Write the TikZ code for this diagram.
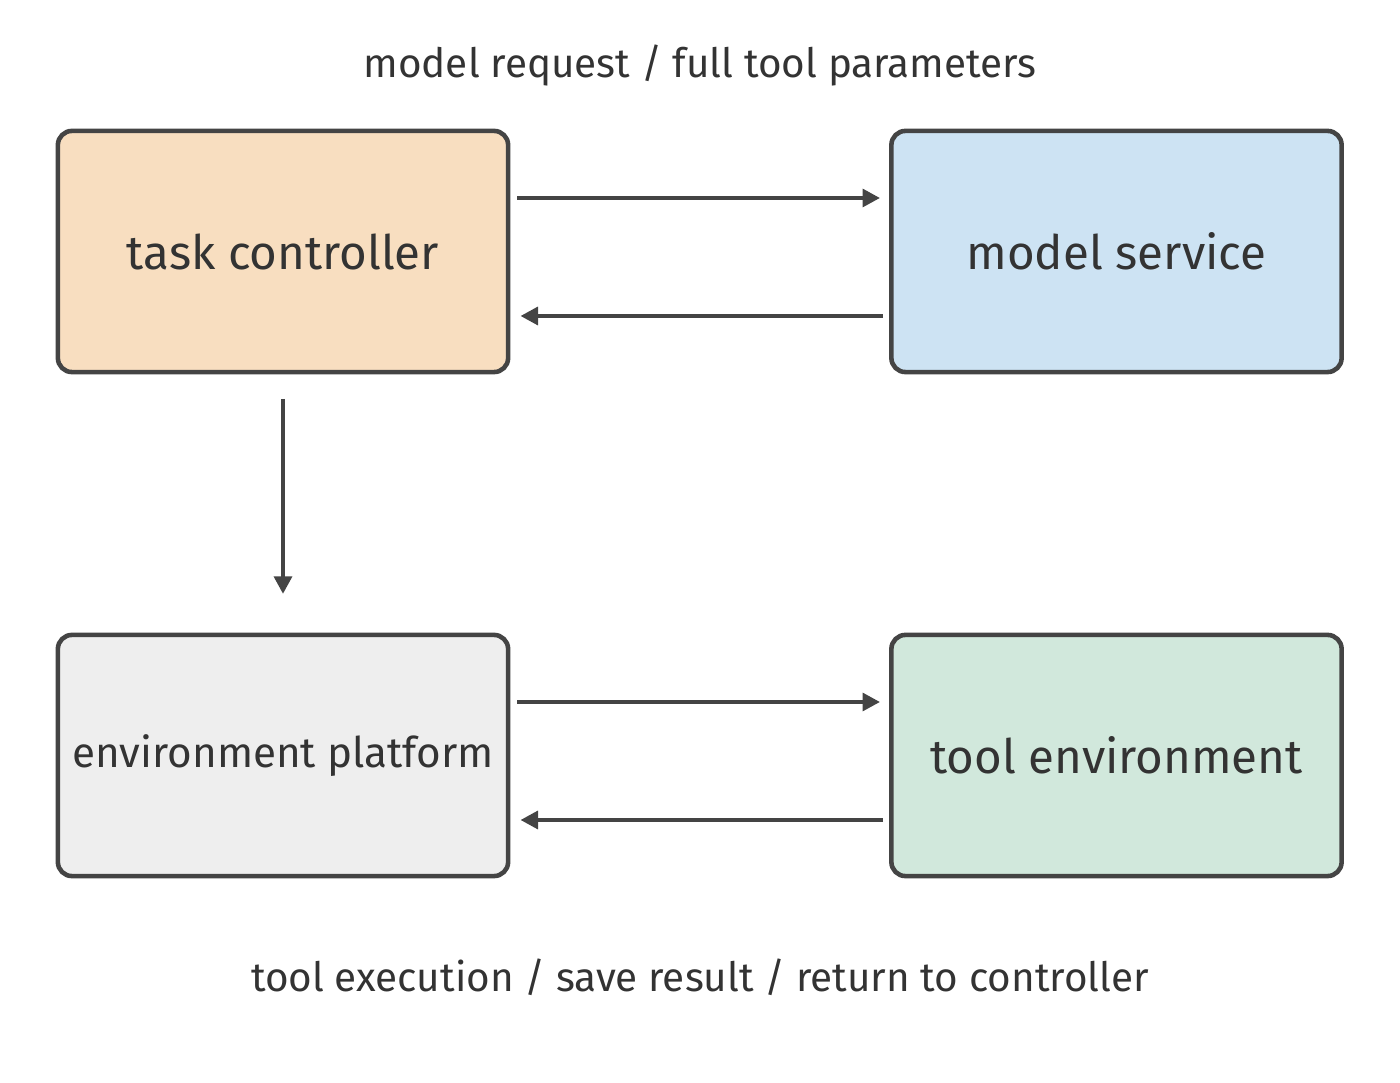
\documentclass[tikz,border=0pt]{standalone}
\usepackage{fontspec}
\setmainfont{Fira Sans}
\usetikzlibrary{arrows.meta}
\definecolor{ink}{HTML}{333333}
\definecolor{edge}{HTML}{444444}
\definecolor{orangefill}{HTML}{F8DEC0}
\definecolor{bluefill}{HTML}{CDE3F3}
\definecolor{grayfill}{HTML}{EEEEEE}
\definecolor{greenfill}{HTML}{D1E8DC}
\tikzset{
	block/.style={draw=edge, line width=1.3pt, rounded corners=4pt, minimum width=4.5cm, minimum height=2.41cm, text=ink, font=\fontsize{13.5}{16}\selectfont},
	flow/.style={-{Triangle[length=5pt,width=5pt]}, edge, line width=1.3pt},
	caption/.style={text=ink, font=\fontsize{11.5}{14}\selectfont}
}
\begin{document}
\begin{tikzpicture}[x=0.01cm,y=-0.01cm]
	\useasboundingbox (0,0) rectangle (1400,1083);
	%The four blocks
	\node[block, fill=orangefill] (ctrl) at (283,251.5) {task controller};
	\node[block, fill=bluefill] (model) at (1116.5,251.5) {model service};
	\node[block, fill=grayfill, font=\fontsize{12}{14}\selectfont] (platform) at (283,755.5) {environment platform};
	\node[block, fill=greenfill] (tool) at (1116.5,755.5) {tool environment};
	%Captions
	\node[caption] (top) at (700,66) {model request / full tool parameters};
	\node[caption] (bottom) at (700,977) {tool execution / save result / return to controller};
	%The connectors
	\begin{scope}[flow]
		\draw ([shift={(7,-53.5)}]ctrl.east) -- ([shift={(-9,-53.5)}]model.west);
		\draw ([shift={(-6,64.5)}]model.west) -- ([shift={(10,64.5)}]ctrl.east);
		\draw ([yshift=-7]ctrl.south) -- ([yshift=11]platform.north);
		\draw ([shift={(7,-53.5)}]platform.east) -- ([shift={(-9,-53.5)}]tool.west);
		\draw ([shift={(-6,64.5)}]tool.west) -- ([shift={(10,64.5)}]platform.east);
	\end{scope}
\end{tikzpicture}
\end{document}
